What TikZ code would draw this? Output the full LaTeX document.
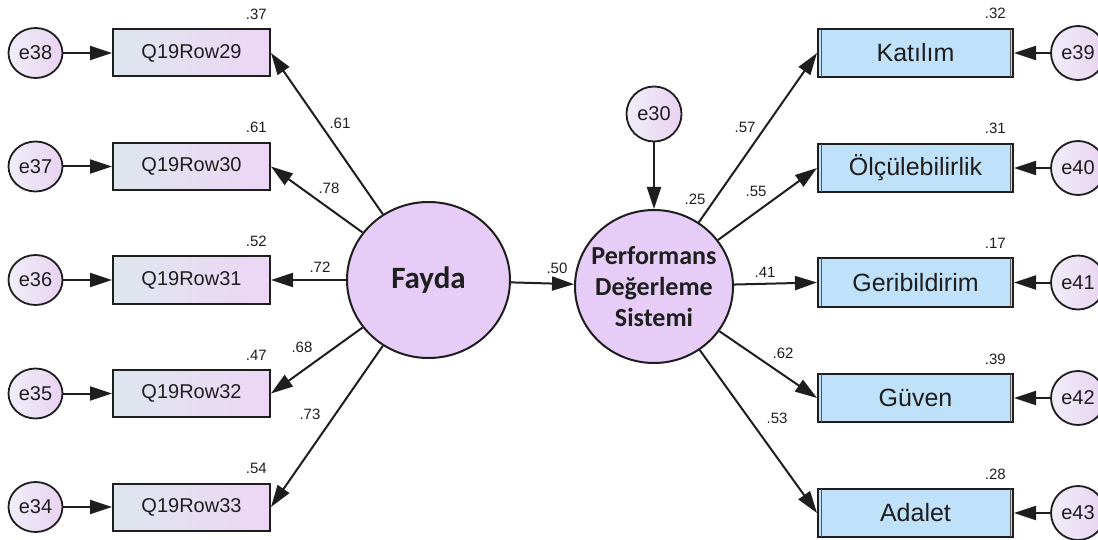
\documentclass[tikz,border=0pt]{standalone}
\usepackage{fontspec}
\setmainfont{Liberation Sans}
\newfontfamily\calib{Carlito}
\usetikzlibrary{arrows.meta,shapes.geometric}
\definecolor{boxL}{HTML}{DEE6EE}
\definecolor{boxR}{HTML}{EDD6F6}
\definecolor{blueBox}{HTML}{C0E1FA}
\definecolor{lat}{HTML}{E6CCF7}
\definecolor{errL}{HTML}{EFEEF7}
\definecolor{errR}{HTML}{E9D2F3}
\definecolor{ink}{HTML}{1E1E1E}
\begin{document}
\begin{tikzpicture}[x=1pt,y=-1pt,
  obsL/.style={draw=ink, line width=2pt, left color=boxL, right color=boxR,
    minimum width=157pt, minimum height=47pt, inner sep=0pt, text=ink,
    font=\fontsize{20}{24}\selectfont},
  obsR/.style={draw=ink, line width=2pt, fill=blueBox,
    minimum width=195pt, minimum height=48pt, inner sep=0pt, text=ink,
    font=\fontsize{25}{30}\selectfont},
  err/.style={ellipse, draw=ink, line width=1.8pt, left color=errL, right color=errR,
    minimum width=54pt, minimum height=50pt, inner sep=0pt, text=ink,
    font=\fontsize{20}{24}\selectfont},
  latent/.style={ellipse, draw=ink, line width=2pt, fill=lat, inner sep=0pt, text=ink,
    align=center},
  arr/.style={draw=ink, line width=2pt, -{Triangle[length=22pt,width=14pt]}},
  coef/.style={inner sep=0pt, text=ink, font=\fontsize{15}{17}\selectfont},
  inner/.style={draw=ink!75, line width=1pt},
]
\useasboundingbox (0,0) rectangle (1098,540);

% latent variables
\node[latent, minimum width=163pt, minimum height=156pt,
  font=\calib\bfseries\fontsize{31}{36}\selectfont] (F) at (428.5,280) {Fayda};
\node[latent, minimum width=158pt, minimum height=153pt] (P) at (654,286.5) {};
\node[align=center, inner sep=0pt, text=ink,
  font=\calib\bfseries\fontsize{26}{31}\selectfont] (Ptxt) at (P.center)
  {Performans\\Değerleme\\Sistemi};
\node[err, minimum width=55pt, minimum height=55pt] (e30) at (654,114) {e30};

% left observed
\foreach \n/\e/\y/\r in {29/38/53/.37, 30/37/166.5/.61, 31/36/280/.52, 32/35/393.5/.47, 33/34/507/.54}{
  \node[obsL] (Q\n) at (191.5,\y) {Q19Row\n};
  \node[err] (e\e) at (35.5,\y) {e\e};
  \node[coef, anchor=base east] (r\n) at ([xshift=-4pt,yshift=9pt]Q\n.north east) {\r};
  \draw[arr] (e\e) -- (Q\n.west);
}

% right observed
\foreach \nm/\txt/\e/\y/\r in {K/Katılım/39/53/.32, O/Ölçülebilirlik/40/168/.31, G/Geribildirim/41/282.5/.17, V/Güven/42/398/.39, A/Adalet/43/513/.28}{
  \node[obsR] (\nm) at (915.5,\y) {\txt};
  \draw[inner] ([xshift=4pt,yshift=-1pt]\nm.north west) -- ([xshift=4pt,yshift=1pt]\nm.south west);
  \draw[inner] ([xshift=-4pt,yshift=-1pt]\nm.north east) -- ([xshift=-4pt,yshift=1pt]\nm.south east);
  \node[err, minimum height=54pt] (e\e) at (1078,\y) {e\e};
  \node[coef, anchor=base east] (r\nm) at ([xshift=-8pt,yshift=9pt]\nm.north east) {\r};
  \draw[arr] (e\e) -- (\nm.east);
}

% structural paths
\draw[arr] (F) -- (P);
\draw[arr] (e30) -- (P);
\foreach \n in {29,30,31,32,33} \draw[arr] (F) -- (Q\n.east);
\foreach \nm in {K,O,G,V,A} \draw[arr] (P) -- (\nm.west);

% coefficients
\node[coef] (c29) at (340,123) {.61};
\node[coef] (c30) at (329,188) {.78};
\node[coef] (c31) at (320,267) {.72};
\node[coef] (c32) at (302,347) {.68};
\node[coef] (c33) at (310,414) {.73};
\node[coef] (c50) at (557,268) {.50};
\node[coef] (c25) at (695,199) {.25};
\node[coef] (cK) at (745,127) {.57};
\node[coef] (cO) at (756,191) {.55};
\node[coef] (cG) at (765,272) {.41};
\node[coef] (cV) at (783,353) {.62};
\node[coef] (cA) at (777,418) {.53};
\end{tikzpicture}
\end{document}
